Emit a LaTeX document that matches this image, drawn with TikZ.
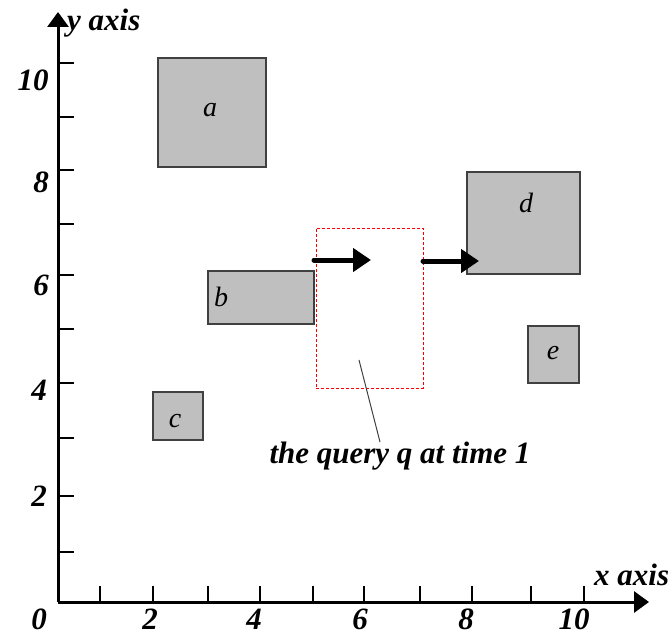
\documentclass[tikz,border=0pt]{standalone}
\usepackage{fontspec}
\setmainfont{Liberation Serif}
\usetikzlibrary{arrows.meta}
\begin{document}
\begin{tikzpicture}[x=1pt,y=-1pt,
  axisline/.style={line width=3pt},
  tickline/.style={line width=2.5pt},
  numlabel/.style={font=\fontsize{31}{31}\selectfont\bfseries\itshape, inner sep=0pt},
  box/.style={draw=black!75, line width=1.5pt, fill=black!25, inner sep=0pt},
  boxletter/.style={font=\fontsize{28}{28}\selectfont\itshape, inner sep=0pt},
  querybox/.style={draw=red, dash pattern=on 3pt off 2pt, line width=1pt, inner sep=0pt},
  movearrow/.style={line width=5pt, line cap=round, -{Triangle[length=18pt,width=23pt]}},
  pointer/.style={draw=black!75, line width=1pt}
]
\useasboundingbox (0,0) rectangle (668,636);

% axes
\coordinate (O) at (58,602);
\coordinate (YT) at (58,12);
\coordinate (XT) at (649,602);
\draw[axisline, -{Triangle[length=15pt,width=21pt]}] (O) -- (YT);
\draw[axisline, -{Triangle[length=15pt,width=21pt]}] (O) -- (XT);

% x ticks
\foreach \x in {100,153,208,260,313,364,420,472,531,584}
  \draw[tickline] (\x,602) -- (\x,586);
% y ticks
\foreach \y in {552,496,438,383,329,275,224,170,117,63}
  \draw[tickline] (58,\y) -- (74,\y);

% axis numbers
\node[numlabel] (x0) at (39,619) {0};
\node[numlabel] (x2) at (150,619) {2};
\node[numlabel] (x4) at (254,619) {4};
\node[numlabel] (x6) at (360,619) {6};
\node[numlabel] (x8) at (466,619) {8};
\node[numlabel] (x10) at (574,619) {10};
\node[numlabel] (y2) at (39,496) {2};
\node[numlabel] (y4) at (39,390) {4};
\node[numlabel] (y6) at (41,285) {6};
\node[numlabel] (y8) at (41,182) {8};
\node[numlabel] (y10) at (33,80) {10};

\node[numlabel, anchor=base west] (ylab) at (67,31) {y axis};
\node[numlabel, anchor=base west] (xlab) at (594,585) {x axis};

% rectangles
\node[box, minimum width=108pt, minimum height=109pt] (a) at (212,112.5) {};
\node[box, minimum width=106pt, minimum height=53pt] (b) at (261,297.5) {};
\node[box, minimum width=50pt, minimum height=48pt] (c) at (178,416) {};
\node[box, minimum width=113pt, minimum height=102pt] (d) at (523.5,223) {};
\node[box, minimum width=51pt, minimum height=57pt] (e) at (553.5,354.5) {};

\node[boxletter] (la) at (210,110) {a};
\node[boxletter] (lb) at (221,297) {b};
\node[boxletter] (lc) at (175,421) {c};
\node[boxletter] (ld) at (526,203) {d};
\node[boxletter] (le) at (553,353) {e};

% query
\node[querybox, minimum width=107pt, minimum height=160pt] (q) at (369.5,308) {};

\coordinate (a1s) at (314,260);
\coordinate (a1e) at (371,260);
\coordinate (a2s) at (423,261);
\coordinate (a2e) at (479,261);
\draw[movearrow] (a1s) -- (a1e);
\draw[movearrow] (a2s) -- (a2e);

% annotation
\coordinate (ps) at (359,360);
\node[numlabel, anchor=base] (qt) at (400,463) {the query q at time 1};
\coordinate (pe) at (380,442);
\draw[pointer] (ps) -- (pe);
\end{tikzpicture}
\end{document}
